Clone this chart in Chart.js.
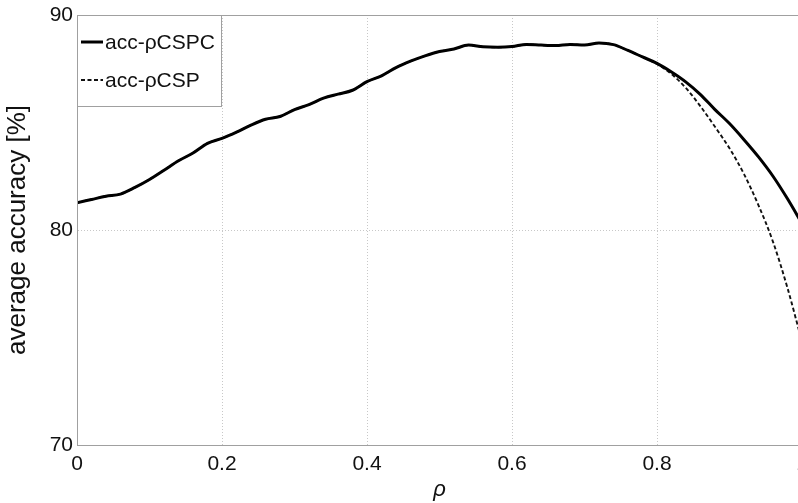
<!DOCTYPE html>
<html>
<head>
<meta charset="utf-8">
<script src="https://cdn.jsdelivr.net/npm/chart.js@4.4.1/dist/chart.umd.min.js"></script>
<style>
  html, body { margin: 0; padding: 0; background: #fff; overflow: hidden; }
  canvas { display: block; }
</style>
</head>
<body>
<canvas id="accChart" width="802" height="503"></canvas>
<script>
// values
const rho = [0, 0.02, 0.04, 0.06, 0.08, 0.1, 0.12, 0.14, 0.16, 0.18, 0.2, 0.22, 0.24, 0.26, 0.28, 0.3,
    0.32, 0.34, 0.36, 0.38, 0.4, 0.42, 0.44, 0.46, 0.48, 0.5, 0.52, 0.54, 0.56, 0.58, 0.6, 0.62, 0.64,
    0.66, 0.68, 0.7, 0.72, 0.74, 0.76, 0.78, 0.8, 0.82, 0.84, 0.86, 0.88, 0.9, 0.92, 0.94, 0.96, 0.98, 1];
const accCSPC = [81.27, 81.42, 81.57, 81.67, 81.98, 82.35, 82.78, 83.22, 83.58, 84.03, 84.26, 84.55,
    84.88, 85.15, 85.28, 85.6, 85.83, 86.13, 86.32, 86.5, 86.9, 87.17, 87.55, 87.85, 88.1, 88.3, 88.42,
    88.6, 88.52, 88.5, 88.53, 88.63, 88.6, 88.58, 88.63, 88.6, 88.7, 88.62, 88.35, 88.05, 87.75,
    87.35, 86.88, 86.3, 85.6, 84.95, 84.2, 83.4, 82.5, 81.45, 80.3];
const accCSP = [81.27, 81.42, 81.57, 81.67, 81.98, 82.35, 82.78, 83.22, 83.58, 84.03, 84.26, 84.55,
    84.88, 85.15, 85.28, 85.6, 85.83, 86.13, 86.32, 86.5, 86.9, 87.17, 87.55, 87.85, 88.1, 88.3, 88.42,
    88.6, 88.52, 88.5, 88.53, 88.63, 88.6, 88.58, 88.63, 88.6, 88.7, 88.62, 88.35, 88.05, 87.72,
    87.25, 86.6, 85.75, 84.8, 83.8, 82.6, 81.15, 79.45, 77.3, 74.8];
const xTicks = [0, 0.2, 0.4, 0.6, 0.8, 1];
const yTicks = [70, 80, 90];

const fontName = '"Liberation Sans", Arial, sans-serif';

function toPoints(xs, ys) {
    return xs.map((x, i) => ({ x: x, y: ys[i] }));
}

// legend box drawn inside the plot, top-left like the original
const boxLegend = {
    id: 'boxLegend',
    afterDatasetsDraw(chart) {
        const ctx = chart.ctx;
        const area = chart.chartArea;
        ctx.save();
        // plot frame
        ctx.strokeStyle = '#a0a0a0';
        ctx.lineWidth = 1;
        ctx.setLineDash([]);
        ctx.strokeRect(area.left + 0.5, area.top + 0.5, area.right - area.left, area.bottom - area.top);

        const bx = area.left, by = area.top, bw = 144, bh = 91;
        ctx.fillStyle = '#fff';
        ctx.fillRect(bx, by, bw, bh);
        ctx.strokeStyle = '#a0a0a0';
        ctx.strokeRect(bx + 0.5, by + 0.5, bw, bh);

        ctx.font = '21px ' + fontName;
        ctx.textBaseline = 'middle';
        ctx.fillStyle = '#111';
        chart.data.datasets.forEach((ds, i) => {
            const y = by + 27 + i * 38;
            ctx.strokeStyle = ds.borderColor;
            ctx.lineWidth = ds.borderWidth;
            ctx.setLineDash(ds.borderDash || []);
            ctx.beginPath();
            ctx.moveTo(bx + 4, y);
            ctx.lineTo(bx + 26, y);
            ctx.stroke();
            ctx.setLineDash([]);
            ctx.fillText(ds.label, bx + 28, y + 1);
        });
        ctx.restore();
    }
};

const ctx = document.getElementById('accChart').getContext('2d');

new Chart(ctx, {
    type: 'line',
    data: {
        datasets: [{
            label: 'acc-\u03C1CSPC',
            data: toPoints(rho, accCSPC),
            borderColor: '#000',
            borderWidth: 3,
            pointRadius: 0,
            cubicInterpolationMode: 'monotone',
            order: 1
        }, {
            label: 'acc-\u03C1CSP',
            data: toPoints(rho, accCSP),
            borderColor: '#111',
            borderWidth: 1.9,
            borderDash: [4, 2.5],
            pointRadius: 0,
            cubicInterpolationMode: 'monotone',
            order: 2
        }]
    },
    options: {
        responsive: false,
        animation: false,
        devicePixelRatio: 1,
        layout: { padding: { top: 15, left: 0, right: 0, bottom: 0 } },
        plugins: {
            legend: { display: false },
            tooltip: { enabled: false }
        },
        scales: {
            x: {
                type: 'linear',
                min: 0,
                max: 1,
                afterBuildTicks: (scale) => { scale.ticks = xTicks.map(v => ({ value: v })); },
                afterFit: (scale) => {
                    scale.height = 58;
                    scale.paddingLeft = 0;
                    scale.paddingRight = 0;
                },
                grid: {
                    color: '#c8c8c8',
                    lineWidth: 1,
                    drawTicks: false
                },
                border: { display: true, color: '#a0a0a0', dash: [1, 2] },
                ticks: {
                    padding: 7,
                    color: '#111',
                    maxRotation: 0,
                    autoSkip: false,
                    font: { family: fontName, size: 21 },
                    callback: (v) => String(v)
                },
                title: {
                    display: true,
                    text: '\u03C1',
                    color: '#111',
                    padding: { top: 0, bottom: 0 },
                    font: { family: fontName, size: 22, style: 'italic' }
                }
            },
            y: {
                min: 70,
                max: 90,
                afterBuildTicks: (scale) => { scale.ticks = yTicks.map(v => ({ value: v })); },
                afterFit: (scale) => {
                    scale.width = 77;
                    scale.paddingTop = 0;
                    scale.paddingBottom = 0;
                },
                grid: {
                    color: '#c8c8c8',
                    lineWidth: 1,
                    drawTicks: false
                },
                border: { display: true, color: '#a0a0a0', dash: [1, 2] },
                ticks: {
                    padding: 4,
                    color: '#111',
                    font: { family: fontName, size: 21 }
                },
                title: {
                    display: true,
                    text: 'average accuracy [%]',
                    color: '#111',
                    padding: { top: 2, bottom: 0 },
                    font: { family: fontName, size: 26 }
                }
            }
        }
    },
    plugins: [boxLegend]
});
</script>
</body>
</html>
